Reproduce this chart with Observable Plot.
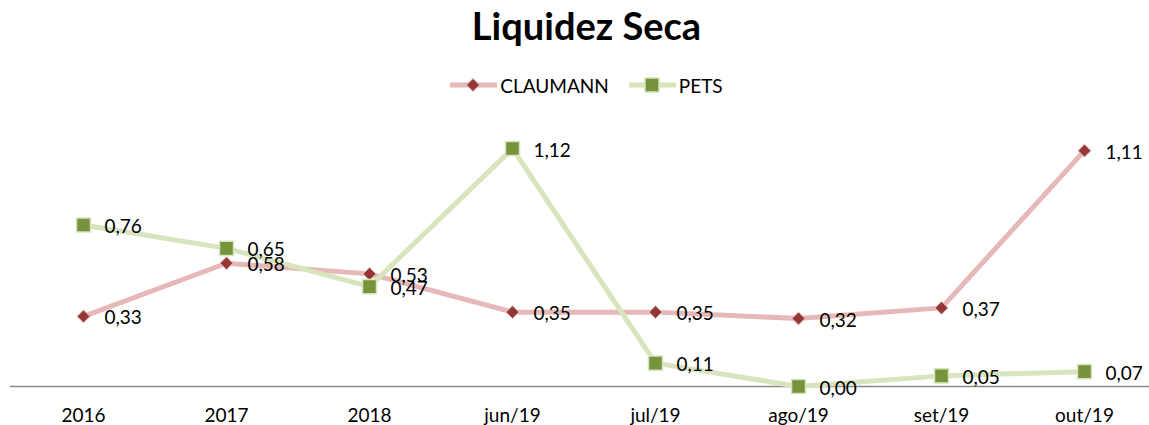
<!DOCTYPE html>
<html>
<head>
<meta charset="utf-8">
<script src="https://cdn.jsdelivr.net/npm/d3@7"></script>
<script src="https://cdn.jsdelivr.net/npm/@observablehq/plot@0.6"></script>
<style>
  html, body { margin: 0; padding: 0; background: #fff; }
  body { width: 1149px; height: 425px; overflow: hidden; font-family: Lato, "Noto Sans", sans-serif; }
  #title { height: 60px; line-height: 50px; text-align: center; font-size: 38px; font-weight: bold; color: #000; padding-left: 24px; box-sizing: border-box; }
  #legend { height: 50px; display: flex; justify-content: center; align-items: center; gap: 0; font-size: 19px; color: #000; padding-left: 24px; box-sizing: border-box; }
  .item { display: flex; align-items: center; margin: 0 10px; }
  .item svg { margin-right: 3px; }
  #chart svg { overflow: visible; display: block; }
</style>
</head>
<body>
<div id="title">Liquidez Seca</div>
<div id="legend"></div>
<div id="chart"></div>
<script>
const categories = ["2016", "2017", "2018", "jun/19", "jul/19", "ago/19", "set/19", "out/19"];
const claumann = [0.33, 0.58, 0.53, 0.35, 0.35, 0.32, 0.37, 1.11];
const pets = [0.76, 0.65, 0.47, 1.12, 0.11, 0.00, 0.05, 0.07];
const seriesNames = ["CLAUMANN", "PETS"];

const lineColors = {CLAUMANN: "#E6B9B8", PETS: "#D7E4BD"};
const markColors = {CLAUMANN: "#953735", PETS: "#77933C"};

const rows = [];
categories.forEach((c, i) => {
  rows.push({cat: c, series: "CLAUMANN", value: claumann[i]});
  rows.push({cat: c, series: "PETS", value: pets[i]});
});
const cl = rows.filter(d => d.series === "CLAUMANN");
const pe = rows.filter(d => d.series === "PETS");
const fmt = v => v.toFixed(2).replace(".", ",");

// Legend
const legend = document.getElementById("legend");
seriesNames.forEach(name => {
  const item = document.createElement("div");
  item.className = "item";
  const sym = name === "CLAUMANN"
    ? `<path d="M23,-6.5 L29.5,0 L23,6.5 L16.5,0 Z" fill="${markColors[name]}" stroke="${lineColors[name]}" stroke-width="1"/>`
    : `<rect x="16" y="-7" width="14" height="14" fill="${markColors[name]}" stroke="${lineColors[name]}" stroke-width="1.5"/>`;
  item.innerHTML = `<svg width="47" height="20" viewBox="0 -10 47 20"><line x1="1" x2="46" y1="0" y2="0" stroke="${lineColors[name]}" stroke-width="5" stroke-linecap="round"/>${sym}</svg><span>${name}</span>`;
  legend.appendChild(item);
});

const chart = Plot.plot({
  width: 1149,
  height: 315,
  marginLeft: 10,
  marginRight: -8,
  marginTop: 21,
  marginBottom: 39,
  style: {fontFamily: "Lato, 'Noto Sans', sans-serif", fontSize: "19px", color: "#000", background: "transparent", overflow: "visible"},
  x: {type: "point", domain: categories, padding: 0.5, label: null},
  y: {domain: [0, 1.2], axis: null},
  marks: [
    Plot.axisX({tickSize: 0, tickPadding: 22, fontSize: 19, fill: "#000", label: null}),
    Plot.ruleY([0], {stroke: "#898989", strokeWidth: 1.5}),
    Plot.line(cl, {x: "cat", y: "value", stroke: lineColors.CLAUMANN, strokeWidth: 5}),
    Plot.dot(cl, {x: "cat", y: "value", symbol: "diamond2", r: 5.8, fill: markColors.CLAUMANN, stroke: lineColors.CLAUMANN, strokeWidth: 1}),
    Plot.line(pe, {x: "cat", y: "value", stroke: lineColors.PETS, strokeWidth: 5}),
    Plot.dot(pe, {x: "cat", y: "value", symbol: "square", r: 7.9, fill: markColors.PETS, stroke: lineColors.PETS, strokeWidth: 1.5}),
    Plot.text(rows, {x: "cat", y: "value", text: d => fmt(d.value), dx: 21, dy: 2, textAnchor: "start", lineAnchor: "middle", fontSize: 19, fill: "#000"})
  ]
});
document.getElementById("chart").appendChild(chart);
</script>
</body>
</html>
